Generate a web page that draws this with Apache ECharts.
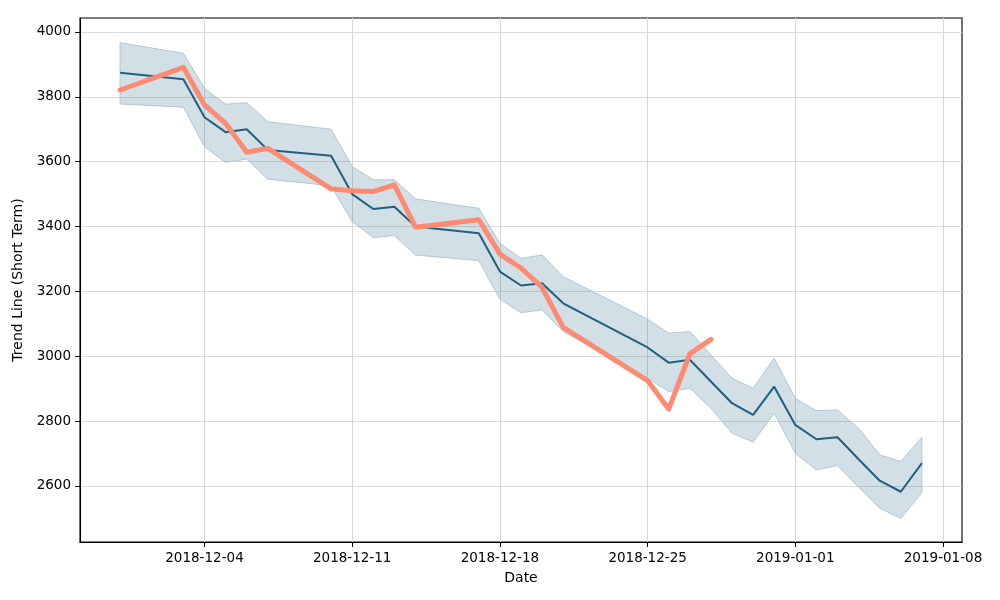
<!DOCTYPE html>
<html>
<head>
<meta charset="utf-8">
<script src="https://cdn.jsdelivr.net/npm/echarts@6/dist/echarts.min.js"></script>
<style>html,body{margin:0;padding:0;background:#fff;}#c{width:1000px;height:600px;}</style>
</head>
<body>
<div id="c"></div>
<script>
const dates = ['2018-11-30','2018-12-03','2018-12-04','2018-12-05','2018-12-06','2018-12-07','2018-12-10','2018-12-11','2018-12-12','2018-12-13','2018-12-14','2018-12-17','2018-12-18','2018-12-19','2018-12-20','2018-12-21','2018-12-25','2018-12-26','2018-12-27','2018-12-28','2018-12-29','2018-12-30','2018-12-31','2019-01-01','2019-01-02','2019-01-03','2019-01-04','2019-01-05','2019-01-06','2019-01-07'];
const trend = [3874,3854,3737,3691,3700,3636,3618,3500,3454,3461,3400,3379,3261,3218,3225,3163,3027,2980,2989,2922,2855,2819,2906,2788,2744,2750,2682,2616,2582,2670];
const upper = [3967,3934,3826,3777,3782,3723,3700,3585,3544,3544,3485,3456,3348,3302,3312,3245,3114,3071,3076,3004,2932,2901,2994,2870,2832,2834,2778,2696,2675,2750];
const lower = [3778,3768,3646,3598,3608,3546,3526,3415,3366,3372,3312,3295,3176,3134,3143,3076,2932,2891,2901,2840,2763,2735,2824,2701,2649,2663,2596,2531,2500,2579];
const actual = [3821,3891,3775,3718,3629,3641,3516,3510,3508,3528,3398,3421,3315,3272,3212,3089,2925,2837,3007,3052];
const xTickLabels = ['2018-12-04','2018-12-11','2018-12-18','2018-12-25','2019-01-01','2019-01-08'];
const yTicks = [2600,2800,3000,3200,3400,3600,3800,4000];

const ts = s => { const p = s.split('-').map(Number); return Date.UTC(p[0], p[1]-1, p[2]); };
const xs = dates.map(ts);
const span = xs[xs.length-1]-xs[0];
const xMin = xs[0] - span*0.05;
const xMax = xs[xs.length-1] + span*0.05;
const xTicks = xTickLabels.map(ts);
const pad = n => (n<10?'0':'')+n;
const fmt = v => { const d = new Date(v); return d.getUTCFullYear()+'-'+pad(d.getUTCMonth()+1)+'-'+pad(d.getUTCDate()); };

const FONT = 'DejaVu Sans';
const FS = 13.5;
const BAND_EDGE = '#b3c8d5';
const BAND_FILL = 'rgba(32,96,128,0.2)';

const chart = echarts.init(document.getElementById('c'), null, {renderer:'canvas'});
chart.setOption({
  animation: false,
  backgroundColor: '#fff',
  textStyle: {fontFamily: FONT},
  grid: {left: 80, right: 38, top: 18, bottom: 58, show: true, borderColor: '#000', borderWidth: 1.1, containLabel: false},
  xAxis: {
    type: 'value', min: xMin, max: xMax,
    name: 'Date', nameLocation: 'middle', nameGap: 29,
    nameTextStyle: {fontFamily: FONT, fontSize: 14, color: '#000'},
    axisLine: {show: true, lineStyle: {color: '#000', width: 1.1}},
    axisTick: {show: true, inside: false, length: 5, lineStyle: {color: '#000'}, customValues: xTicks},
    axisLabel: {show: true, margin: 9, fontFamily: FONT, fontSize: FS, color: '#000', customValues: xTicks, formatter: v => fmt(v)},
    splitLine: {show: true, lineStyle: {color: '#d6d6d6', width: 1}}
  },
  yAxis: {
    type: 'value', min: 2427, max: 4043,
    name: 'Trend Line (Short Term)', nameLocation: 'middle', nameGap: 41,
    nameTextStyle: {fontFamily: FONT, fontSize: 14, color: '#000'},
    axisLine: {show: true, lineStyle: {color: '#000', width: 1.1}},
    axisTick: {show: true, inside: false, length: 5, lineStyle: {color: '#000'}, customValues: yTicks},
    axisLabel: {show: true, margin: 9, fontFamily: FONT, fontSize: FS, color: '#000', customValues: yTicks, formatter: v => String(v)},
    splitLine: {show: true, lineStyle: {color: '#dadada', width: 1}}
  },
  series: [
    {
      type: 'custom', name: 'band', z: 1, clip: true,
      data: xs.map((x,i) => [x, lower[i], upper[i]]),
      encode: {x: 0, y: [1, 2]},
      renderItem: function (params, api) {
        if (params.dataIndex !== 0) return null;
        const pts = [];
        for (let i = 0; i < xs.length; i++) pts.push(api.coord([xs[i], upper[i]]));
        for (let i = xs.length - 1; i >= 0; i--) pts.push(api.coord([xs[i], lower[i]]));
        return {type: 'polygon', shape: {points: pts}, style: {fill: BAND_FILL, stroke: BAND_EDGE, lineWidth: 1}};
      }
    },
    {
      type: 'line', name: 'trend', symbol: 'none',
      data: xs.map((x,i) => [x, trend[i]]),
      lineStyle: {color: '#20607f', width: 2}, z: 3
    },
    {
      type: 'line', name: 'actual', symbol: 'none',
      data: actual.map((v,i) => [xs[i], v]),
      lineStyle: {color: '#fd8a71', width: 5, join: 'round', cap: 'round'}, z: 4
    }
  ]
});
</script>
</body>
</html>
